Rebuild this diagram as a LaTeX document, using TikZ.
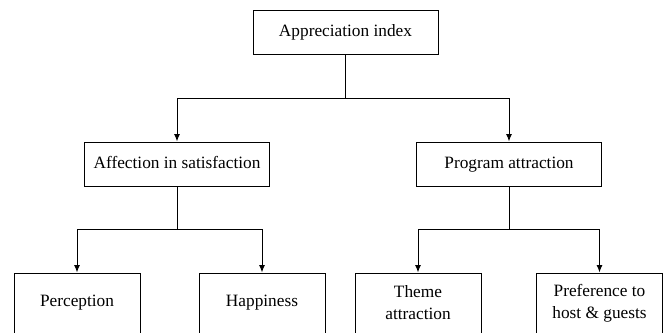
\documentclass[tikz,border=0pt]{standalone}
\usepackage{fontspec}
\setmainfont{Liberation Serif}
\usetikzlibrary{arrows.meta}
\begin{document}
\begin{tikzpicture}[x=1pt,y=-1pt,
  box/.style={draw=black, line width=1pt, inner sep=0pt, align=center,
    font=\fontsize{17.3}{22}\selectfont},
  midbox/.style={box, minimum width=185pt, minimum height=44pt, text height=12pt, text depth=3.5pt},
  leafbox/.style={box, minimum width=126pt, minimum height=60pt},
  conn/.style={draw=black, line width=1pt},
  arr/.style={conn, -{Latex[length=7.5pt,width=6pt]}}]
\useasboundingbox (0,0) rectangle (666,332);
\node[midbox] (top) at (345.5,32) {Appreciation index};
\node[midbox] (aff) at (177,164) {Affection in satisfaction};
\node[midbox] (prog) at (509,164) {Program attraction};
\node[leafbox] (perc) at (77,303) {Perception};
\node[leafbox] (happ) at (262,303) {Happiness};
\node[leafbox] (theme) at (418,303) {Theme\\attraction};
\node[leafbox] (pref) at (599.5,303) {Preference to\\host \& guests};
\coordinate (j1) at (345.5,98);
\coordinate (j2) at (177,229);
\coordinate (j3) at (509,229);
\draw[conn] (top.south) -- (j1);
\draw[arr] (j1) -| (aff.north);
\draw[arr] (j1) -| (prog.north);
\draw[conn] (aff.south) -- (j2);
\draw[arr] (j2) -| (perc.north);
\draw[arr] (j2) -| (happ.north);
\draw[conn] (prog.south) -- (j3);
\draw[arr] (j3) -| (theme.north);
\draw[arr] (j3) -| (pref.north);
\end{tikzpicture}
\end{document}
